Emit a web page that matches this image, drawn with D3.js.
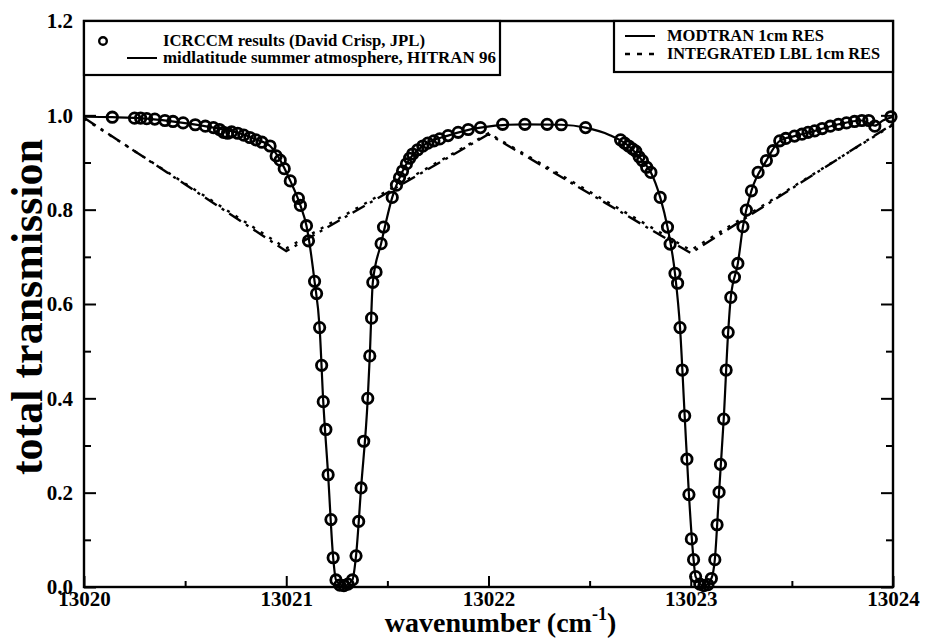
<!DOCTYPE html>
<html>
<head>
<meta charset="utf-8">
<script src="https://cdn.jsdelivr.net/npm/d3@7/dist/d3.min.js"></script>
<style>
  html, body { margin: 0; padding: 0; background: #fff; }
  svg { display: block; }
  text { font-family: "Liberation Serif", "Times New Roman", serif; font-weight: bold; fill: #000; }
</style>
</head>
<body>
<svg id="chart" width="926" height="638"></svg>
<script>
// ICRCCM line-by-line results: [wavenumber (cm-1), total transmission]
const icrccm = [
  [13020.14,0.996],[13020.25,0.994],[13020.28,0.994],[13020.31,0.993],[13020.35,0.992],[13020.40,0.989],
  [13020.44,0.987],[13020.49,0.984],[13020.55,0.980],[13020.60,0.977],[13020.64,0.974],[13020.67,0.970],
  [13020.69,0.964],[13020.71,0.962],[13020.73,0.965],[13020.76,0.962],[13020.79,0.958],[13020.82,0.953],
  [13020.85,0.948],[13020.88,0.943],[13020.92,0.935],[13020.95,0.914],[13020.97,0.905],[13020.99,0.887],
  [13021.02,0.861],[13021.06,0.824],[13021.07,0.809],[13021.10,0.766],[13021.11,0.734],[13021.14,0.648],
  [13021.15,0.622],[13021.165,0.55],[13021.175,0.47],[13021.183,0.393],[13021.196,0.334],[13021.207,0.238],
  [13021.221,0.143],[13021.232,0.062],[13021.246,0.015],[13021.265,0.004],[13021.285,0.003],[13021.305,0.006],
  [13021.327,0.015],[13021.345,0.066],[13021.358,0.139],[13021.370,0.21],[13021.383,0.309],[13021.403,0.40],
  [13021.413,0.49],[13021.422,0.57],[13021.428,0.646],[13021.444,0.668],[13021.469,0.728],[13021.481,0.763],
  [13021.524,0.826],[13021.545,0.852],[13021.560,0.868],[13021.575,0.882],[13021.594,0.897],[13021.610,0.909],
  [13021.625,0.918],[13021.650,0.927],[13021.675,0.935],[13021.70,0.941],[13021.73,0.946],[13021.759,0.950],
  [13021.80,0.957],[13021.85,0.964],[13021.90,0.970],[13021.96,0.974],[13022.07,0.981],[13022.18,0.981],
  [13022.29,0.981],[13022.36,0.980],[13022.48,0.974],[13022.653,0.948],[13022.673,0.941],[13022.693,0.935],
  [13022.712,0.929],[13022.728,0.924],[13022.745,0.912],[13022.761,0.904],[13022.782,0.890],[13022.803,0.879],
  [13022.849,0.826],[13022.885,0.763],[13022.898,0.727],[13022.922,0.665],[13022.935,0.644],[13022.947,0.55],
  [13022.958,0.46],[13022.970,0.363],[13022.981,0.271],[13022.991,0.196],[13023.003,0.102],[13023.014,0.058],
  [13023.024,0.022],[13023.045,0.006],[13023.065,0.003],[13023.085,0.005],[13023.102,0.018],[13023.119,0.058],
  [13023.130,0.132],[13023.140,0.201],[13023.147,0.26],[13023.163,0.356],[13023.175,0.46],[13023.185,0.54],
  [13023.198,0.614],[13023.216,0.657],[13023.233,0.686],[13023.258,0.764],[13023.275,0.799],[13023.300,0.840],
  [13023.333,0.879],[13023.374,0.904],[13023.407,0.925],[13023.440,0.946],[13023.47,0.951],[13023.513,0.956],
  [13023.55,0.960],[13023.58,0.964],[13023.613,0.967],[13023.65,0.972],[13023.69,0.977],[13023.730,0.981],
  [13023.77,0.984],[13023.81,0.987],[13023.846,0.989],[13023.88,0.989],[13023.91,0.977],[13023.99,0.997]
];

// Midlatitude summer atmosphere, HITRAN 96 spectrum
const hitranLine = [
  [13020.00,0.997],[13020.14,0.996],[13020.31,0.993],[13020.49,0.984],[13020.64,0.974],[13020.76,0.963],
  [13020.85,0.949],[13020.92,0.935],[13020.97,0.905],[13021.02,0.861],[13021.07,0.809],[13021.10,0.766],
  [13021.14,0.648],[13021.165,0.55],[13021.183,0.393],[13021.207,0.238],[13021.232,0.062],[13021.246,0.015],
  [13021.285,0.002],[13021.327,0.015],[13021.345,0.066],[13021.370,0.21],[13021.403,0.40],[13021.413,0.49],
  [13021.428,0.646],[13021.469,0.728],[13021.524,0.826],[13021.594,0.897],[13021.675,0.935],[13021.80,0.957],
  [13021.96,0.974],[13022.18,0.981],[13022.36,0.980],[13022.48,0.974],[13022.60,0.958],[13022.693,0.935],
  [13022.761,0.904],[13022.803,0.879],[13022.849,0.826],[13022.885,0.763],[13022.922,0.665],[13022.947,0.55],
  [13022.970,0.363],[13022.991,0.196],[13023.014,0.058],[13023.024,0.022],[13023.065,0.002],[13023.102,0.018],
  [13023.119,0.058],[13023.140,0.201],[13023.163,0.356],[13023.185,0.54],[13023.198,0.614],[13023.233,0.686],
  [13023.258,0.764],[13023.300,0.840],[13023.374,0.904],[13023.440,0.946],[13023.513,0.956],[13023.613,0.967],
  [13023.730,0.981],[13023.846,0.989],[13023.91,0.978],[13023.95,0.989],[13024.00,0.997]
];

// 1 cm-1 resolution band averages
const modtranWn = [13020, 13021, 13022, 13023, 13024];
const modtranT  = [0.995, 0.712, 0.960, 0.708, 0.982];
const lblWn     = [13020, 13021, 13022, 13023, 13024];
const lblT      = [0.993, 0.718, 0.962, 0.714, 0.980];

const xMajor = [13020, 13021, 13022, 13023, 13024];
const xMinor = [13020.5, 13021.5, 13022.5, 13023.5];
const yMajor = [0.0, 0.2, 0.4, 0.6, 0.8, 1.0, 1.2];
const yMinor = [0.1, 0.3, 0.5, 0.7, 0.9, 1.1];

const legendLeft  = ["ICRCCM results (David Crisp, JPL)", "midlatitude summer atmosphere, HITRAN 96"];
const legendRight = ["MODTRAN 1cm RES", "INTEGRATED LBL 1cm RES"];

const svg = d3.select("#chart");
const L = 84, R = 893, T = 21, B = 587;

const x = d3.scaleLinear().domain([13020, 13024]).range([L, R]);
const y = d3.scaleLinear().domain([0, 1.2]).range([B, T]);

const line = d3.line().x(d => x(d[0])).y(d => y(d[1]));

const plot = svg.append("g");

// 1 cm-1 resolution curves
plot.append("path")
  .datum(d3.zip(lblWn, lblT))
  .attr("d", line)
  .attr("fill", "none").attr("stroke", "#000").attr("stroke-width", 2.4)
  .attr("stroke-dasharray", "3,7");
plot.append("path")
  .datum(d3.zip(modtranWn, modtranT))
  .attr("d", line)
  .attr("fill", "none").attr("stroke", "#000").attr("stroke-width", 2.4)
  .attr("stroke-dasharray", "14,6,3,6");

// high resolution spectrum
plot.append("path")
  .datum(hitranLine)
  .attr("d", d3.line().x(d => x(d[0])).y(d => y(d[1])).curve(d3.curveMonotoneX))
  .attr("fill", "none").attr("stroke", "#000").attr("stroke-width", 2.2);

// ICRCCM points
plot.selectAll("circle.pt")
  .data(icrccm)
  .join("circle")
  .attr("class", "pt")
  .attr("cx", d => x(d[0])).attr("cy", d => y(d[1]))
  .attr("r", 5.2)
  .attr("fill", "none").attr("stroke", "#000").attr("stroke-width", 2.8);

// axes with inward ticks
const axes = svg.append("g");
const styleAxis = g => {
  g.select(".domain").remove();
  g.selectAll(".tick line").attr("stroke", "#000").attr("stroke-width", 2);
  g.selectAll(".tick text").attr("font-size", 21);
};

axes.append("g").attr("transform", `translate(0,${B})`)
  .call(d3.axisBottom(x).tickValues(xMajor).tickSize(-11).tickPadding(4).tickFormat(d3.format("d")))
  .call(styleAxis);
axes.append("g").attr("transform", `translate(0,${B})`)
  .call(d3.axisBottom(x).tickValues(xMinor).tickSize(-6).tickFormat(""))
  .call(styleAxis);
axes.append("g").attr("transform", `translate(${L},0)`)
  .call(d3.axisLeft(y).tickValues(yMajor).tickSize(-12).tickPadding(11).tickFormat(d3.format(".1f")))
  .call(styleAxis);
axes.append("g").attr("transform", `translate(${L},0)`)
  .call(d3.axisLeft(y).tickValues(yMinor).tickSize(-7).tickFormat(""))
  .call(styleAxis);
axes.append("g").attr("transform", `translate(${R},0)`)
  .call(d3.axisRight(y).tickValues(yMajor).tickSize(-12).tickFormat(""))
  .call(styleAxis);
axes.append("g").attr("transform", `translate(${R},0)`)
  .call(d3.axisRight(y).tickValues(yMinor).tickSize(-7).tickFormat(""))
  .call(styleAxis);

// frame
svg.append("rect")
  .attr("x", L).attr("y", T).attr("width", R - L).attr("height", B - T)
  .attr("fill", "none").attr("stroke", "#000").attr("stroke-width", 2.4);

// legend boxes
const lg1 = svg.append("g");
lg1.append("rect").attr("x", L).attr("y", T).attr("width", 416).attr("height", 54)
  .attr("fill", "#fff").attr("stroke", "#000").attr("stroke-width", 2.2);
lg1.append("circle").attr("cx", 103).attr("cy", 41).attr("r", 3.8)
  .attr("fill", "none").attr("stroke", "#000").attr("stroke-width", 2.4);
lg1.append("line").attr("x1", 127).attr("x2", 157).attr("y1", 58).attr("y2", 58)
  .attr("stroke", "#000").attr("stroke-width", 2);
lg1.append("text").attr("x", 163).attr("y", 46).attr("font-size", 16)
  .attr("textLength", 262).attr("lengthAdjust", "spacingAndGlyphs").text(legendLeft[0]);
lg1.append("text").attr("x", 163).attr("y", 63).attr("font-size", 16)
  .attr("textLength", 333).attr("lengthAdjust", "spacingAndGlyphs").text(legendLeft[1]);

const lg2 = svg.append("g");
lg2.append("rect").attr("x", 614).attr("y", T).attr("width", R - 614).attr("height", 51)
  .attr("fill", "#fff").attr("stroke", "#000").attr("stroke-width", 2.2);
lg2.append("line").attr("x1", 625).attr("x2", 655).attr("y1", 36).attr("y2", 36)
  .attr("stroke", "#000").attr("stroke-width", 2);
lg2.append("line").attr("x1", 625).attr("x2", 655).attr("y1", 54).attr("y2", 54)
  .attr("stroke", "#000").attr("stroke-width", 2.4).attr("stroke-dasharray", "5,7");
lg2.append("text").attr("x", 667).attr("y", 41).attr("font-size", 16)
  .attr("textLength", 157).attr("lengthAdjust", "spacingAndGlyphs").text(legendRight[0]);
lg2.append("text").attr("x", 667).attr("y", 59).attr("font-size", 16)
  .attr("textLength", 213).attr("lengthAdjust", "spacingAndGlyphs").text(legendRight[1]);

// axis titles
const xt = svg.append("text").attr("x", (L + R) / 2 + 12).attr("y", 632)
  .attr("text-anchor", "middle").attr("font-size", 28);
xt.append("tspan").text("wavenumber (cm");
xt.append("tspan").attr("font-size", 18).attr("dy", -12).text("-1");
xt.append("tspan").attr("dy", 12).text(")");

svg.append("text")
  .attr("transform", `translate(42,307) rotate(-90)`)
  .attr("text-anchor", "middle").attr("font-size", 44)
  .text("total transmission");
</script>
</body>
</html>
